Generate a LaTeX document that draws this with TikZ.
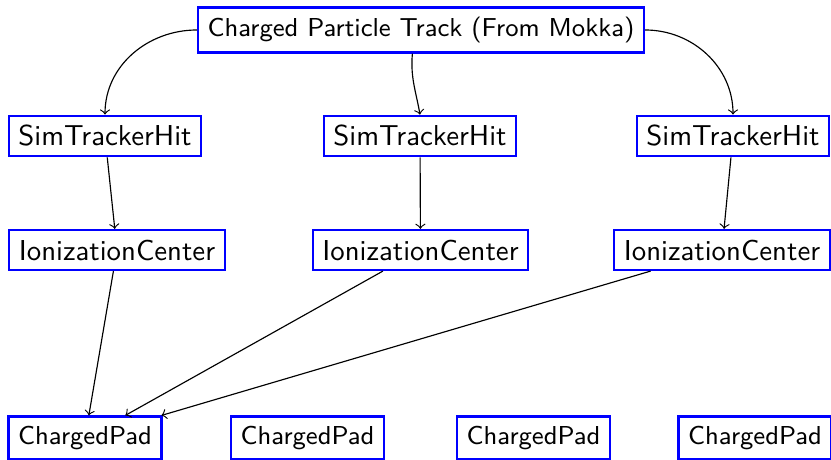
\documentclass[tikz,border=0pt]{standalone}
\usepackage{tikz}
\usetikzlibrary{positioning,calc}

\begin{document}
\begin{tikzpicture}[
  x=0.3472pt, y=-0.3472pt,
  block/.style={draw=blue, thick, rectangle, font=\sffamily},
  smallblock/.style={block, font=\sffamily\small},
  flow/.style={draw, ->},
]
\useasboundingbox (0,0) rectangle (831,460);
\node[smallblock] (track) at (421,30) {Charged Particle Track (From Mokka)};
\node[block] (sim1) at (105,136) {SimTrackerHit};
\node[block] (sim2) at (420,136) {SimTrackerHit};
\node[block] (sim3) at (733,136) {SimTrackerHit};
\node[block] (ion1) at (117,250) {IonizationCenter};
\node[block] (ion2) at (420.5,250) {IonizationCenter};
\node[block] (ion3) at (722,250) {IonizationCenter};
\node[smallblock] (pad1) at (85,438) {ChargedPad};
\node[smallblock] (pad2) at (307.5,438) {ChargedPad};
\node[smallblock] (pad3) at (533.5,438) {ChargedPad};
\node[smallblock] (pad4) at (755,438) {ChargedPad};

\draw[flow] (track.west) to[out=180, in=90] (sim1.north);
\draw[flow] (track.250) to[out=-95, in=100] (sim2.north);
\draw[flow] (track.east) to[out=0, in=90] (sim3.north);
\foreach \i in {1,2,3} {
  \draw[flow] (sim\i) -- (ion\i);
  \draw[flow] (ion\i) -- (pad1);
}
\end{tikzpicture}
\end{document}
